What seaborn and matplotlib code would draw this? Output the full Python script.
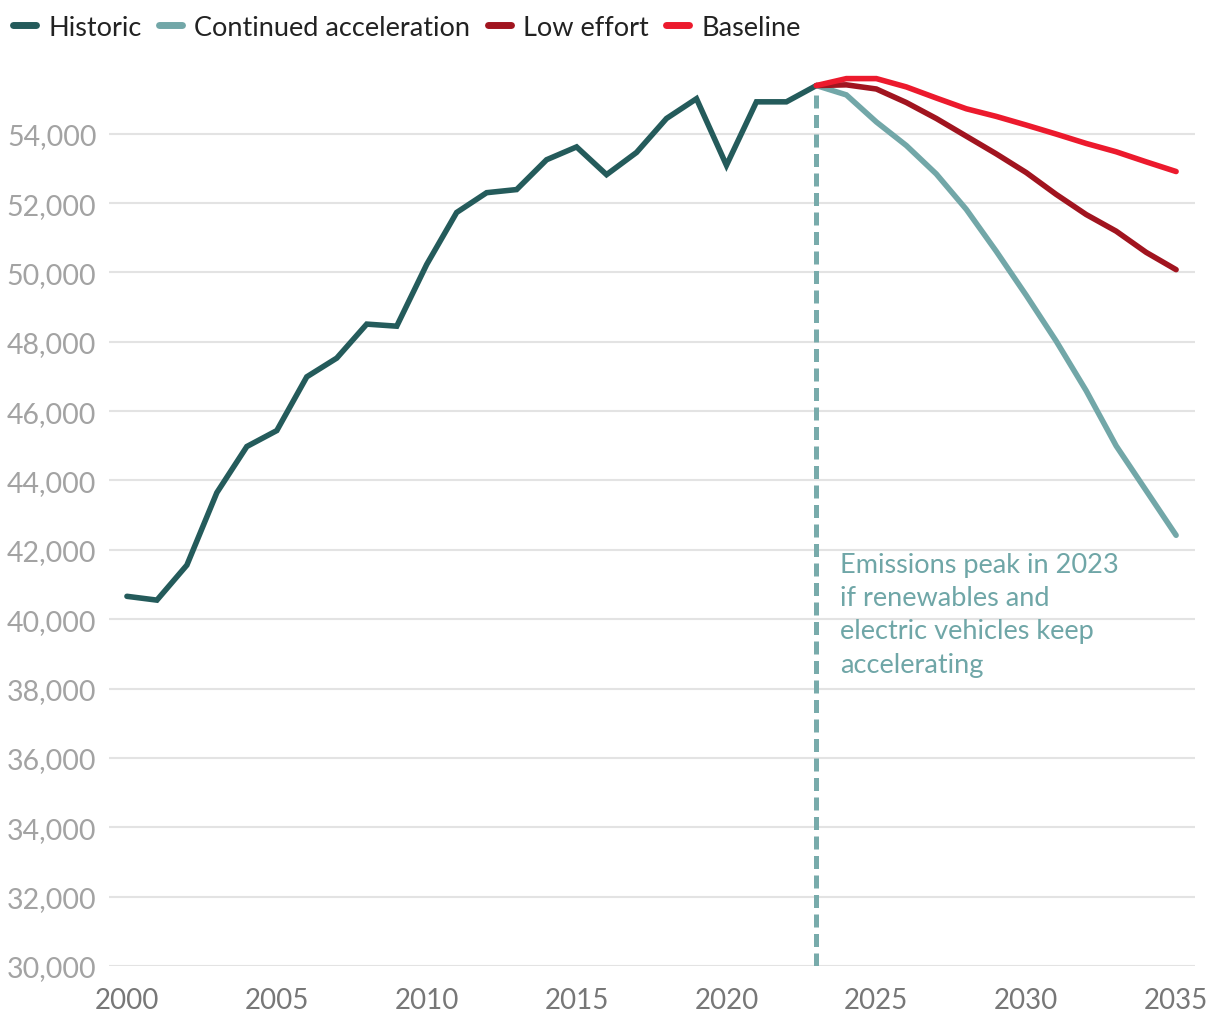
import numpy as np
import pandas as pd
import matplotlib
matplotlib.use("Agg")
import matplotlib.pyplot as plt
import seaborn as sns

# ── Data ─────────────────────────────────────────────────────────────────────
hist_years = list(range(2000, 2024))
hist_vals = [40660, 40550, 41560, 43650, 44980, 45440, 46990, 47530, 48510, 48450,
             50230, 51730, 52300, 52390, 53250, 53620, 52820, 53460, 54440, 55010,
             53090, 54920, 54920, 55390]

proj_years = list(range(2023, 2036))
accel_vals = [55390, 55120, 54340, 53660, 52840, 51820, 50610, 49340, 48020,
              46590, 45000, 43710, 42420]
low_vals = [55390, 55410, 55290, 54900, 54440, 53930, 53420, 52880, 52250,
            51670, 51190, 50580, 50080]
base_vals = [55390, 55590, 55590, 55350, 55030, 54720, 54500, 54250, 53990,
             53720, 53480, 53190, 52910]

SERIES = ["Historic", "Continued acceleration", "Low effort", "Baseline"]
COLORS = ["#245b5b", "#72a7a8", "#a1141f", "#ec1a2d"]

yticks = list(range(30000, 56000, 2000))
xticks = list(range(2000, 2036, 5))

df = pd.concat([
    pd.DataFrame({"year": hist_years, "value": hist_vals, "series": "Historic"}),
    pd.DataFrame({"year": proj_years, "value": accel_vals, "series": "Continued acceleration"}),
    pd.DataFrame({"year": proj_years, "value": low_vals, "series": "Low effort"}),
    pd.DataFrame({"year": proj_years, "value": base_vals, "series": "Baseline"}),
], ignore_index=True)

# ── Style ─────────────────────────────────────────────────────────────────────
sns.set_theme(style="white")
plt.rcParams["font.family"] = ["Lato", "DejaVu Sans"]

fig = plt.figure(figsize=(12.2, 10.2), dpi=100)
ax = fig.add_axes([0.0893, 0.052, 0.8902, 0.889])

sns.lineplot(data=df, x="year", y="value", hue="series", hue_order=SERIES,
             palette=dict(zip(SERIES, COLORS)), linewidth=4.0, ax=ax,
             legend=False, solid_capstyle="round", solid_joinstyle="miter")

# 2023 peak marker
ax.axvline(2023, ymin=0, ymax=0.966, color="#78abab", linewidth=3.6,
           linestyle=(0, (2.6, 1.3)), zorder=5)
ax.text(2023.8, 41950,
        "Emissions peak in 2023\nif renewables and\nelectric vehicles keep\naccelerating",
        color="#6fa6a7", fontsize=19.5, va="top", ha="left", linespacing=1.42)

ax.set_xlim(1999.4, 2035.63)
ax.set_ylim(30000, 56150)
ax.set_yticks(yticks)
ax.set_yticklabels([f"{v:,}" for v in yticks])
ax.set_xticks(xticks)
ax.set_xlabel("")
ax.set_ylabel("")
ax.grid(axis="y", color="#e3e3e3", linewidth=1.5)
ax.grid(axis="x", visible=False)
for s in ax.spines.values():
    s.set_visible(False)
ax.tick_params(axis="y", labelsize=20.5, length=0, pad=9)
ax.tick_params(axis="x", colors="#777777", labelsize=20, length=0, pad=15)
for lbl in ax.get_yticklabels():
    lbl.set_color("#a3a3a3")

# Legend along the top
handles = [plt.Line2D([], [], color=c, linewidth=5, solid_capstyle="round") for c in COLORS]
fig.legend(handles, SERIES, loc="upper left", bbox_to_anchor=(-0.005, 1.003), ncol=4,
           frameon=False, fontsize=19.5, handlelength=0.85, handletextpad=0.45,
           columnspacing=0.65, labelcolor="#222222", borderaxespad=0.3)

fig.savefig("out.png", dpi=100, facecolor="white")
